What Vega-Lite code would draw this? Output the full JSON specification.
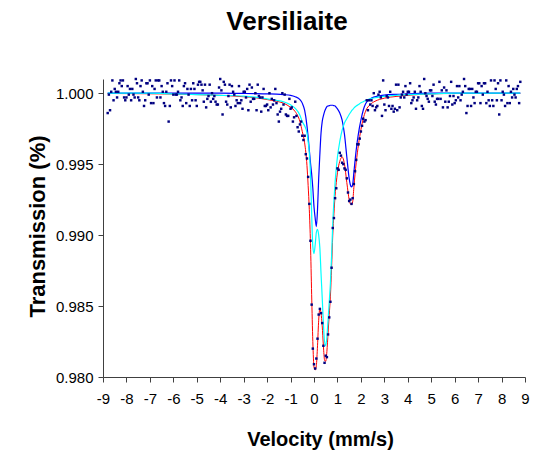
{
"$schema": "https://vega.github.io/schema/vega-lite/v6.json",
"width": 422, "height": 298,
"autosize": {"type": "none"},
"padding": {"left": 103, "top": 79, "right": 30, "bottom": 73},
"background": "white",
"config": {
 "view": {"stroke": null},
 "font": "Liberation Sans",
 "axis": {"grid": false, "domainColor": "#404040", "tickColor": "#404040", "labelColor": "black", "titleColor": "black", "labelFont": "Liberation Sans", "titleFont": "Liberation Sans", "labelFontSize": 15, "titleFontWeight": "bold", "tickSize": 5}
},
"title": {"text": "Versiliaite", "font": "Liberation Sans", "fontSize": 26, "fontWeight": "bold", "color": "black", "anchor": "middle", "frame": "group", "dx": -27, "offset": 22, "baseline": "alphabetic"},
"datasets": {
"fit": [
{"v":-8.8,"red":0.99998,"blue":1.0,"cyan":1.0},
{"v":-7,"red":0.99996,"blue":1.0,"cyan":1.0},
{"v":-6,"red":0.99994,"blue":1.0,"cyan":0.99995},
{"v":-5,"red":0.9999,"blue":1.0,"cyan":0.9999},
{"v":-4,"red":0.99985,"blue":1.0,"cyan":0.99985},
{"v":-3,"red":0.99975,"blue":0.99998,"cyan":0.9998},
{"v":-2.5,"red":0.99968,"blue":0.99997,"cyan":0.99972},
{"v":-2,"red":0.99955,"blue":0.99995,"cyan":0.9996},
{"v":-1.6,"red":0.99943,"blue":0.99993,"cyan":0.9995},
{"v":-1.3,"red":0.9993,"blue":0.9999,"cyan":0.9994},
{"v":-1.0,"red":0.999,"blue":0.99985,"cyan":0.99918},
{"v":-0.8,"red":0.9987,"blue":0.99975,"cyan":0.99893},
{"v":-0.6,"red":0.998,"blue":0.99955,"cyan":0.99845},
{"v":-0.5,"red":0.9973,"blue":0.9993,"cyan":0.998},
{"v":-0.4,"red":0.9965,"blue":0.9988,"cyan":0.9977},
{"v":-0.3,"red":0.9949,"blue":0.9977,"cyan":0.9972},
{"v":-0.25,"red":0.9935,"blue":0.9969,"cyan":0.9966},
{"v":-0.2,"red":0.9918,"blue":0.996,"cyan":0.9958},
{"v":-0.15,"red":0.9894,"blue":0.9951,"cyan":0.9943},
{"v":-0.1,"red":0.9858,"blue":0.9943,"cyan":0.9915},
{"v":-0.05,"red":0.9825,"blue":0.9933,"cyan":0.9892},
{"v":0,"red":0.9807,"blue":0.992,"cyan":0.9887},
{"v":0.05,"red":0.9805,"blue":0.9912,"cyan":0.9893},
{"v":0.1,"red":0.9808,"blue":0.9906,"cyan":0.9902},
{"v":0.15,"red":0.9822,"blue":0.9918,"cyan":0.9904},
{"v":0.2,"red":0.984,"blue":0.994,"cyan":0.99},
{"v":0.25,"red":0.9848,"blue":0.9957,"cyan":0.9891},
{"v":0.3,"red":0.9845,"blue":0.9972,"cyan":0.9873},
{"v":0.35,"red":0.9836,"blue":0.998,"cyan":0.9856},
{"v":0.4,"red":0.9822,"blue":0.9984,"cyan":0.9838},
{"v":0.45,"red":0.9812,"blue":0.9987,"cyan":0.9825},
{"v":0.5,"red":0.9811,"blue":0.9989,"cyan":0.9822},
{"v":0.55,"red":0.9818,"blue":0.99905,"cyan":0.9828},
{"v":0.6,"red":0.9831,"blue":0.9991,"cyan":0.984},
{"v":0.65,"red":0.9844,"blue":0.99912,"cyan":0.9853},
{"v":0.7,"red":0.9857,"blue":0.99915,"cyan":0.9866},
{"v":0.75,"red":0.9877,"blue":0.99915,"cyan":0.9885},
{"v":0.8,"red":0.99,"blue":0.99915,"cyan":0.9908},
{"v":0.85,"red":0.9915,"blue":0.99912,"cyan":0.9924},
{"v":0.9,"red":0.9928,"blue":0.9991,"cyan":0.9937},
{"v":0.95,"red":0.9937,"blue":0.999,"cyan":0.9947},
{"v":1.0,"red":0.9944,"blue":0.9989,"cyan":0.9955},
{"v":1.1,"red":0.9952,"blue":0.9986,"cyan":0.9966},
{"v":1.2,"red":0.9955,"blue":0.9981,"cyan":0.9974},
{"v":1.3,"red":0.995,"blue":0.9971,"cyan":0.9979},
{"v":1.4,"red":0.9937,"blue":0.9955,"cyan":0.9982},
{"v":1.5,"red":0.9925,"blue":0.994,"cyan":0.9985},
{"v":1.55,"red":0.9922,"blue":0.99355,"cyan":0.99862},
{"v":1.6,"red":0.99215,"blue":0.9934,"cyan":0.99875},
{"v":1.65,"red":0.99235,"blue":0.99355,"cyan":0.99885},
{"v":1.7,"red":0.99335,"blue":0.9944,"cyan":0.99895},
{"v":1.8,"red":0.9951,"blue":0.996,"cyan":0.9991},
{"v":1.9,"red":0.9964,"blue":0.9972,"cyan":0.9992},
{"v":2.0,"red":0.99742,"blue":0.9981,"cyan":0.99932},
{"v":2.1,"red":0.9982,"blue":0.9988,"cyan":0.9994},
{"v":2.2,"red":0.99873,"blue":0.99925,"cyan":0.99948},
{"v":2.4,"red":0.9992,"blue":0.9996,"cyan":0.9996},
{"v":2.6,"red":0.99943,"blue":0.99975,"cyan":0.99968},
{"v":2.8,"red":0.99956,"blue":0.99982,"cyan":0.99974},
{"v":3.0,"red":0.99965,"blue":0.99987,"cyan":0.99978},
{"v":3.5,"red":0.99977,"blue":0.99992,"cyan":0.99985},
{"v":4,"red":0.99985,"blue":0.99995,"cyan":0.9999},
{"v":5,"red":0.99995,"blue":1.0,"cyan":0.99995},
{"v":6,"red":0.99998,"blue":1.0,"cyan":1.0},
{"v":7,"red":0.99998,"blue":1.0,"cyan":1.0},
{"v":8.8,"red":0.99999,"blue":1.0,"cyan":1.0}
],
"pts": [
{"v":-8.80,"t":0.9986},{"v":-8.75,"t":0.9999},{"v":-8.70,"t":0.9988},{"v":-8.65,"t":1.0001},{"v":-8.60,"t":1.0009},
{"v":-8.55,"t":0.9995},{"v":-8.50,"t":1.0003},{"v":-8.45,"t":1.0001},{"v":-8.40,"t":0.9997},{"v":-8.35,"t":1.0001},
{"v":-8.30,"t":1.0007},{"v":-8.25,"t":1.0009},{"v":-8.20,"t":1.0005},{"v":-8.15,"t":1.0009},{"v":-8.10,"t":0.9997},
{"v":-8.05,"t":0.9995},{"v":-8.00,"t":0.9997},{"v":-7.95,"t":1.0005},{"v":-7.90,"t":0.9999},{"v":-7.85,"t":1.0003},
{"v":-7.80,"t":0.9995},{"v":-7.75,"t":1.0003},{"v":-7.70,"t":0.9999},{"v":-7.65,"t":0.9997},{"v":-7.60,"t":1.0010},
{"v":-7.55,"t":1.0007},{"v":-7.50,"t":0.9997},{"v":-7.45,"t":0.9995},{"v":-7.40,"t":1.0005},{"v":-7.35,"t":1.0009},
{"v":-7.30,"t":1.0001},{"v":-7.25,"t":0.9991},{"v":-7.20,"t":0.9995},{"v":-7.15,"t":1.0007},{"v":-7.10,"t":1.0007},
{"v":-7.05,"t":0.9999},{"v":-7.00,"t":1.0009},{"v":-6.95,"t":0.9993},{"v":-6.90,"t":1.0005},{"v":-6.85,"t":0.9993},
{"v":-6.80,"t":1.0003},{"v":-6.75,"t":1.0009},{"v":-6.70,"t":0.9997},{"v":-6.65,"t":1.0009},{"v":-6.60,"t":1.0009},
{"v":-6.55,"t":0.9997},{"v":-6.50,"t":1.0005},{"v":-6.45,"t":1.0001},{"v":-6.40,"t":0.9993},{"v":-6.35,"t":0.9991},
{"v":-6.30,"t":1.0001},{"v":-6.25,"t":1.0007},{"v":-6.20,"t":0.9980},{"v":-6.15,"t":0.9991},{"v":-6.10,"t":1.0009},
{"v":-6.05,"t":1.0005},{"v":-6.00,"t":0.9999},{"v":-5.95,"t":1.0009},{"v":-5.90,"t":0.9999},{"v":-5.85,"t":0.9999},
{"v":-5.80,"t":1.0001},{"v":-5.75,"t":1.0009},{"v":-5.70,"t":0.9995},{"v":-5.65,"t":0.9997},{"v":-5.60,"t":0.9991},
{"v":-5.55,"t":1.0005},{"v":-5.50,"t":1.0007},{"v":-5.45,"t":0.9993},{"v":-5.40,"t":1.0003},{"v":-5.35,"t":0.9999},
{"v":-5.30,"t":0.9991},{"v":-5.25,"t":1.0003},{"v":-5.20,"t":0.9995},{"v":-5.15,"t":1.0007},{"v":-5.10,"t":1.0003},
{"v":-5.05,"t":0.9995},{"v":-5.00,"t":0.9991},{"v":-4.95,"t":1.0006},{"v":-4.90,"t":1.0008},{"v":-4.85,"t":1.0008},
{"v":-4.80,"t":1.0006},{"v":-4.75,"t":1.0002},{"v":-4.70,"t":0.9994},{"v":-4.65,"t":1.0006},{"v":-4.60,"t":0.9990},
{"v":-4.55,"t":0.9996},{"v":-4.50,"t":0.9998},{"v":-4.45,"t":1.0006},{"v":-4.40,"t":0.9994},{"v":-4.35,"t":1.0000},
{"v":-4.30,"t":0.9996},{"v":-4.25,"t":0.9998},{"v":-4.20,"t":0.9994},{"v":-4.15,"t":0.9992},{"v":-4.10,"t":0.9992},
{"v":-4.05,"t":1.0004},{"v":-4.00,"t":1.0010},{"v":-3.95,"t":1.0002},{"v":-3.90,"t":0.9985},{"v":-3.85,"t":1.0008},
{"v":-3.80,"t":1.0006},{"v":-3.75,"t":0.9994},{"v":-3.70,"t":0.9992},{"v":-3.65,"t":0.9998},{"v":-3.60,"t":1.0006},
{"v":-3.55,"t":0.9990},{"v":-3.50,"t":1.0005},{"v":-3.45,"t":1.0001},{"v":-3.40,"t":0.9999},{"v":-3.35,"t":0.9991},
{"v":-3.30,"t":0.9995},{"v":-3.25,"t":0.9993},{"v":-3.20,"t":1.0005},{"v":-3.15,"t":0.9993},{"v":-3.10,"t":0.9995},
{"v":-3.05,"t":0.9989},{"v":-3.00,"t":1.0001},{"v":-2.95,"t":1.0001},{"v":-2.90,"t":0.9997},{"v":-2.85,"t":1.0003},
{"v":-2.80,"t":0.9988},{"v":-2.75,"t":1.0006},{"v":-2.70,"t":0.9994},{"v":-2.65,"t":1.0004},{"v":-2.60,"t":0.9996},
{"v":-2.55,"t":0.9996},{"v":-2.50,"t":1.0000},{"v":-2.45,"t":0.9988},{"v":-2.40,"t":1.0006},{"v":-2.35,"t":0.9998},
{"v":-2.30,"t":0.9997},{"v":-2.25,"t":0.9987},{"v":-2.20,"t":0.9997},{"v":-2.15,"t":1.0003},{"v":-2.10,"t":0.9991},
{"v":-2.05,"t":0.9991},{"v":-2.00,"t":0.9992},{"v":-1.95,"t":0.9988},{"v":-1.90,"t":1.0000},{"v":-1.85,"t":0.9990},
{"v":-1.80,"t":0.9996},{"v":-1.75,"t":0.9992},{"v":-1.70,"t":0.9995},{"v":-1.65,"t":1.0003},{"v":-1.60,"t":0.9993},
{"v":-1.55,"t":0.9985},{"v":-1.50,"t":0.9980},{"v":-1.45,"t":0.9987},{"v":-1.40,"t":0.9989},{"v":-1.35,"t":1.0000},
{"v":-1.30,"t":0.9992},{"v":-1.25,"t":0.9999},{"v":-1.20,"t":0.9985},{"v":-1.15,"t":0.9984},{"v":-1.10,"t":0.9984},
{"v":-1.05,"t":0.9996},{"v":-1.00,"t":0.9989},{"v":-0.95,"t":0.9990},{"v":-0.90,"t":0.9980},{"v":-0.85,"t":0.9983},
{"v":-0.80,"t":0.9994},{"v":-0.75,"t":0.9984},{"v":-0.70,"t":0.9976},{"v":-0.65,"t":0.9973},{"v":-0.60,"t":0.9978},
{"v":-0.55,"t":0.9980},{"v":-0.50,"t":0.9970},{"v":-0.45,"t":0.9967},{"v":-0.40,"t":0.9970},{"v":-0.35,"t":0.9957},
{"v":-0.30,"t":0.9954},{"v":-0.25,"t":0.9941},{"v":-0.20,"t":0.9922},{"v":-0.15,"t":0.9896},{"v":-0.10,"t":0.9851},
{"v":-0.05,"t":0.9820},{"v":0.00,"t":0.9809},{"v":0.05,"t":0.9806},{"v":0.10,"t":0.9813},{"v":0.15,"t":0.9827},
{"v":0.20,"t":0.9844},{"v":0.25,"t":0.9848},{"v":0.30,"t":0.9845},{"v":0.35,"t":0.9838},{"v":0.40,"t":0.9822},
{"v":0.45,"t":0.9810},{"v":0.50,"t":0.9815},{"v":0.55,"t":0.9814},{"v":0.60,"t":0.9830},{"v":0.65,"t":0.9842},
{"v":0.70,"t":0.9853},{"v":0.75,"t":0.9877},{"v":0.80,"t":0.9905},{"v":0.85,"t":0.9912},{"v":0.90,"t":0.9926},
{"v":0.95,"t":0.9933},{"v":1.00,"t":0.9947},{"v":1.05,"t":0.9946},{"v":1.10,"t":0.9958},{"v":1.15,"t":0.9956},
{"v":1.20,"t":0.9951},{"v":1.25,"t":0.9950},{"v":1.30,"t":0.9947},{"v":1.35,"t":0.9946},{"v":1.40,"t":0.9940},
{"v":1.45,"t":0.9930},{"v":1.50,"t":0.9924},{"v":1.55,"t":0.9925},{"v":1.60,"t":0.9922},{"v":1.65,"t":0.9926},
{"v":1.70,"t":0.9936},{"v":1.75,"t":0.9945},{"v":1.80,"t":0.9953},{"v":1.85,"t":0.9964},{"v":1.90,"t":0.9964},
{"v":1.95,"t":0.9968},{"v":2.00,"t":0.9973},{"v":2.05,"t":0.9977},{"v":2.10,"t":0.9982},{"v":2.15,"t":0.9980},
{"v":2.20,"t":0.9981},{"v":2.25,"t":0.9995},{"v":2.30,"t":0.9988},{"v":2.35,"t":0.9995},{"v":2.40,"t":0.9992},
{"v":2.45,"t":0.9995},{"v":2.50,"t":0.9991},{"v":2.55,"t":1.0000},{"v":2.60,"t":0.9988},{"v":2.65,"t":0.9990},
{"v":2.70,"t":0.9991},{"v":2.75,"t":0.9999},{"v":2.80,"t":1.0001},{"v":2.85,"t":0.9997},{"v":2.90,"t":0.9984},
{"v":2.95,"t":1.0009},{"v":3.00,"t":0.9992},{"v":3.05,"t":0.9988},{"v":3.10,"t":0.9998},{"v":3.15,"t":0.9997},
{"v":3.20,"t":0.9991},{"v":3.25,"t":1.0001},{"v":3.30,"t":0.9989},{"v":3.35,"t":0.9991},{"v":3.40,"t":0.9987},
{"v":3.45,"t":0.9989},{"v":3.50,"t":1.0006},{"v":3.55,"t":0.9988},{"v":3.60,"t":1.0006},{"v":3.65,"t":0.9990},
{"v":3.70,"t":0.9997},{"v":3.75,"t":0.9999},{"v":3.80,"t":1.0001},{"v":3.85,"t":0.9997},{"v":3.90,"t":1.0005},
{"v":3.95,"t":0.9999},{"v":4.00,"t":1.0001},{"v":4.05,"t":1.0001},{"v":4.10,"t":1.0007},{"v":4.15,"t":0.9993},
{"v":4.20,"t":0.9995},{"v":4.25,"t":0.9997},{"v":4.30,"t":1.0001},{"v":4.35,"t":0.9989},{"v":4.40,"t":0.9995},
{"v":4.45,"t":0.9997},{"v":4.50,"t":1.0005},{"v":4.55,"t":1.0001},{"v":4.60,"t":0.9991},{"v":4.65,"t":0.9989},
{"v":4.70,"t":1.0010},{"v":4.75,"t":1.0000},{"v":4.80,"t":0.9998},{"v":4.85,"t":0.9996},{"v":4.90,"t":0.9994},
{"v":4.95,"t":1.0002},{"v":5.00,"t":1.0002},{"v":5.05,"t":0.9998},{"v":5.10,"t":1.0006},{"v":5.15,"t":0.9994},
{"v":5.20,"t":0.9992},{"v":5.25,"t":0.9996},{"v":5.30,"t":0.9996},{"v":5.35,"t":1.0008},{"v":5.40,"t":0.9996},
{"v":5.45,"t":1.0002},{"v":5.50,"t":0.9990},{"v":5.55,"t":1.0004},{"v":5.60,"t":0.9994},{"v":5.65,"t":1.0002},
{"v":5.70,"t":0.9990},{"v":5.75,"t":0.9994},{"v":5.80,"t":0.9998},{"v":5.85,"t":1.0008},{"v":5.90,"t":0.9992},
{"v":5.95,"t":0.9998},{"v":6.00,"t":0.9993},{"v":6.05,"t":0.9995},{"v":6.10,"t":1.0005},{"v":6.15,"t":0.9997},
{"v":6.20,"t":1.0005},{"v":6.25,"t":0.9995},{"v":6.30,"t":0.9999},{"v":6.35,"t":1.0001},{"v":6.40,"t":1.0010},
{"v":6.45,"t":1.0005},{"v":6.50,"t":0.9986},{"v":6.55,"t":0.9991},{"v":6.60,"t":1.0003},{"v":6.65,"t":1.0003},
{"v":6.70,"t":0.9991},{"v":6.75,"t":1.0003},{"v":6.80,"t":0.9997},{"v":6.85,"t":0.9993},{"v":6.90,"t":1.0001},
{"v":6.95,"t":1.0001},{"v":7.00,"t":1.0007},{"v":7.05,"t":1.0007},{"v":7.10,"t":0.9993},{"v":7.15,"t":1.0005},
{"v":7.20,"t":0.9999},{"v":7.25,"t":1.0007},{"v":7.30,"t":1.0007},{"v":7.35,"t":0.9993},{"v":7.40,"t":1.0001},
{"v":7.45,"t":0.9995},{"v":7.50,"t":0.9991},{"v":7.55,"t":1.0009},{"v":7.60,"t":0.9995},{"v":7.65,"t":0.9991},
{"v":7.70,"t":1.0009},{"v":7.75,"t":1.0003},{"v":7.80,"t":0.9995},{"v":7.85,"t":1.0007},{"v":7.90,"t":0.9985},
{"v":7.95,"t":1.0009},{"v":8.00,"t":0.9995},{"v":8.05,"t":1.0001},{"v":8.10,"t":0.9999},{"v":8.15,"t":0.9991},
{"v":8.20,"t":1.0009},{"v":8.25,"t":0.9993},{"v":8.30,"t":1.0005},{"v":8.35,"t":0.9993},{"v":8.40,"t":1.0001},
{"v":8.45,"t":0.9997},{"v":8.50,"t":1.0003},{"v":8.55,"t":0.9999},{"v":8.60,"t":0.9997},{"v":8.65,"t":1.0003},
{"v":8.70,"t":1.0005},{"v":8.75,"t":0.9993},{"v":8.80,"t":1.0008}
]
},
"encoding": {
 "x": {"field": "v", "type": "quantitative", "scale": {"domain": [-9, 9], "nice": false, "zero": false},
  "axis": {"title": "Velocity (mm/s)", "values": [-9,-8,-7,-6,-5,-4,-3,-2,-1,0,1,2,3,4,5,6,7,8,9], "labelExpr": "datum.value < 0 ? '-' + abs(datum.value) : '' + datum.value", "labelFlush": false, "labelOverlap": false, "labelPadding": 9, "titleFontSize": 20, "titleX": 217, "titleY": 68, "titleBaseline": "alphabetic", "titleAlign": "center"}}
},
"layer": [
 {"data": {"name": "fit"}, "mark": {"type": "line", "color": "#FF0000", "strokeWidth": 1, "interpolate": "monotone"},
  "encoding": {"y": {"field": "red", "type": "quantitative", "title": "Transmission (%)", "scale": {"domain": [0.98, 1.001], "nice": false, "zero": false},
   "axis": {"values": [0.98, 0.985, 0.99, 0.995, 1.0], "format": ".3f", "labelPadding": 5, "titleFontSize": 22, "titleX": -59, "titleY": 147, "titleBaseline": "alphabetic", "titleAlign": "center", "titleAngle": 270}}}},
 {"data": {"name": "fit"}, "mark": {"type": "line", "color": "#0000FF", "strokeWidth": 1.2, "interpolate": "monotone"},
  "encoding": {"y": {"field": "blue", "type": "quantitative", "title": "Transmission (%)"}}},
 {"data": {"name": "fit"}, "mark": {"type": "line", "color": "#00FFFF", "strokeWidth": 1.2, "interpolate": "monotone"},
  "encoding": {"y": {"field": "cyan", "type": "quantitative", "title": "Transmission (%)"}}},
 {"data": {"name": "pts"}, "mark": {"type": "square", "size": 6, "color": "#000080", "filled": true, "opacity": 1},
  "encoding": {"y": {"field": "t", "type": "quantitative", "title": "Transmission (%)"}}}
]
}
